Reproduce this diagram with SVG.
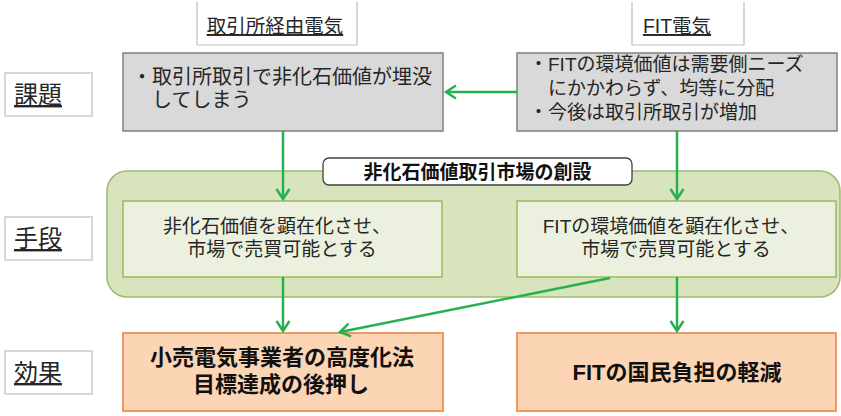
<svg xmlns="http://www.w3.org/2000/svg" width="841" height="416" viewBox="0 0 841 416">
<style>
text{font-family:"Liberation Sans","Noto Sans CJK JP",sans-serif;fill:#262626;}
.lab{fill:#fff;stroke:#bfbfbf;stroke-width:1.2;}
.labt{font-size:24px;text-decoration:underline;}
.topt{font-size:19.5px;text-decoration:underline;text-anchor:middle;}
.gray{fill:#d9d9d9;stroke:#7f7f7f;stroke-width:1.5;}
.t19{font-size:19px;}
.t20{font-size:20px;}
.inner{fill:#ebf1de;stroke:#9bbb59;stroke-width:1.5;}
.orange{fill:#fcd5b5;stroke:#e8915a;stroke-width:1.8;}
.bold{font-size:22px;font-weight:bold;text-anchor:middle;fill:#111;}
.mid{text-anchor:middle;}
.conn{stroke:#27b050;stroke-width:2.5;fill:none;marker-end:url(#ah);}
</style>
<defs>
<marker id="ah" markerUnits="userSpaceOnUse" markerWidth="16" markerHeight="16" viewBox="0 0 16 16" refX="12" refY="8" orient="auto">
<path d="M2,1.5 L12,8 L2,14.5" fill="none" stroke="#27b050" stroke-width="2.5"/>
</marker>
</defs>

<g id="hdr-left">
<path class="lab" d="M197,2 V45 H357 V2"/>
<text class="topt" x="275" y="33">取引所経由電気</text>
</g>
<g id="hdr-right">
<path class="lab" d="M632,2 V45 H744 V2"/>
<text class="topt" x="677" y="33">FIT電気</text>
</g>

<g id="row-kadai">
<rect class="lab" x="5" y="73" width="87" height="43"/>
<text class="labt" x="14" y="103">課題</text>
</g>
<g id="row-shudan">
<rect class="lab" x="5" y="217" width="87" height="43"/>
<text class="labt" x="14" y="247">手段</text>
</g>
<g id="row-kouka">
<rect class="lab" x="5" y="351" width="87" height="43"/>
<text class="labt" x="14" y="381">効果</text>
</g>

<g id="issue-left">
<rect class="gray" x="123" y="53" width="320" height="78"/>
<text class="t20" x="132" y="84">・取引所取引で非化石価値が埋没</text>
<text class="t20" x="152" y="107">してしまう</text>
</g>
<g id="issue-right">
<rect class="gray" x="517" y="53" width="320" height="78"/>
<text class="t19" x="529" y="71">・FITの環境価値は需要側ニーズ</text>
<text class="t19" x="548" y="95">にかかわらず、均等に分配</text>
<text class="t19" x="529" y="119">・今後は取引所取引が増加</text>
</g>

<g id="market">
<rect x="107" y="171" width="733" height="126" rx="20" ry="20" fill="#d7e4bd" stroke="#9fbb6a" stroke-width="1.5"/>
<rect x="323" y="158" width="309" height="27" rx="6" ry="6" fill="#fff" stroke="#404040" stroke-width="1.3"/>
<text x="477.5" y="178.5" class="mid" style="font-size:19px;font-weight:bold;fill:#111">非化石価値取引市場の創設</text>
</g>
<g id="means-left">
<rect class="inner" x="123" y="201" width="319" height="76"/>
<text class="t19 mid" x="277" y="233">非化石価値を顕在化させ、</text>
<text class="t19 mid" x="282" y="256">市場で売買可能とする</text>
</g>
<g id="means-right">
<rect class="inner" x="517" y="201" width="319" height="76"/>
<text class="t19 mid" x="671" y="233">FITの環境価値を顕在化させ、</text>
<text class="t19 mid" x="676" y="256">市場で売買可能とする</text>
</g>

<g id="effect-left">
<rect class="orange" x="123" y="333" width="320" height="78"/>
<text class="bold" x="282" y="365">小売電気事業者の高度化法</text>
<text class="bold" x="281" y="392">目標達成の後押し</text>
</g>
<g id="effect-right">
<rect class="orange" x="517" y="333" width="319" height="78"/>
<text class="bold" x="677" y="380">FITの国民負担の軽減</text>
</g>

<g id="connectors">
<line class="conn" x1="517" y1="92" x2="446" y2="92"/>
<line class="conn" x1="283" y1="131" x2="283" y2="199"/>
<line class="conn" x1="677" y1="131" x2="677" y2="199"/>
<line class="conn" x1="283" y1="277" x2="283" y2="331"/>
<line class="conn" x1="677" y1="277" x2="677" y2="331"/>
<line class="conn" x1="610" y1="278" x2="340" y2="332"/>
</g>
</svg>
